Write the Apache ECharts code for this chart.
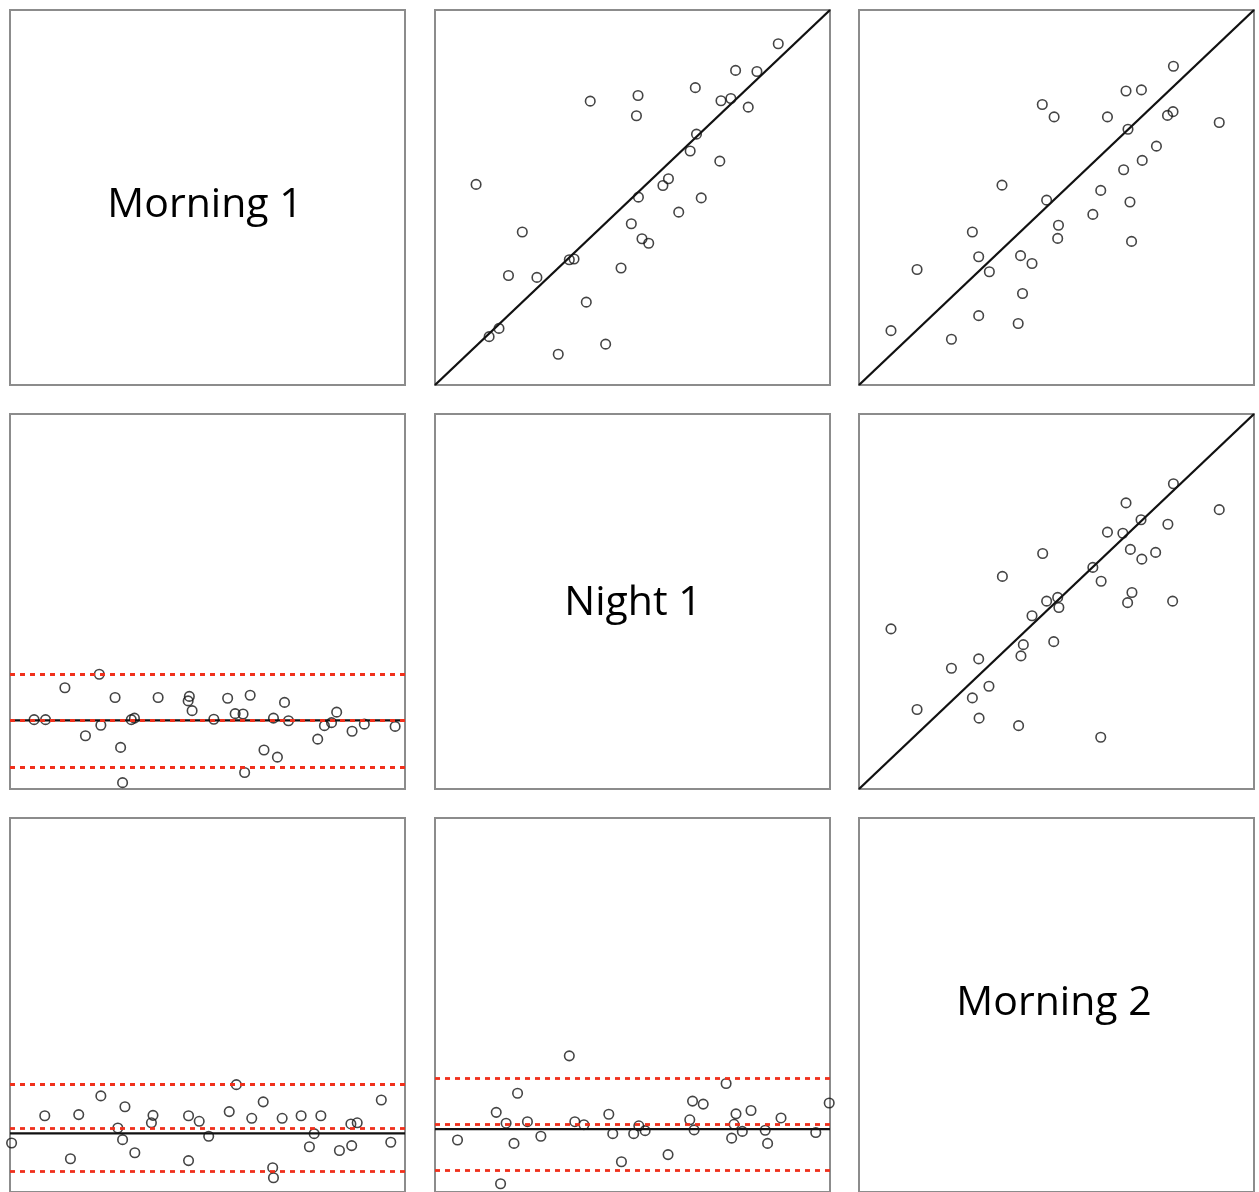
<!DOCTYPE html>
<html><head><meta charset="utf-8">
<script src="https://cdn.jsdelivr.net/npm/echarts@6.0.0/dist/echarts.min.js"></script>
<style>html,body{margin:0;padding:0;background:#fff}#c{width:1259px;height:1192px}</style>
</head><body><div id="c"></div>
<script>
// ---- data (arbitrary 0-100 units) ----
const panelLabels = ['Morning 1', 'Night 1', 'Morning 2'];
const axisMin = 0, axisMax = 100;

// row 1, col 2 scatter
const sc12X = [86.9,76.1,81.5,65.9,39.3,51.4,51.0,72.4,74.9,79.3,66.2,64.6,72.1,10.4,59.1,57.7,51.5,67.4,61.7,49.7,22.1,52.4,54.1,34.0,35.2,18.6,25.8,47.1,38.3,16.2,13.7,43.2,31.2];
const sc12Y = [91.0,83.9,83.6,79.3,75.7,77.2,71.8,75.8,76.4,74.1,66.9,62.4,59.7,53.5,55.0,53.2,50.1,49.9,46.1,43.0,40.8,39.0,37.8,33.4,33.6,29.2,28.7,31.2,22.1,15.1,12.9,10.9,8.2];

// row 1, col 3 scatter
const sc13X = [79.6,67.6,71.5,46.4,49.4,62.9,78.1,79.5,91.2,68.1,75.3,71.7,67.0,36.2,61.2,47.5,68.6,59.2,50.5,50.3,69.0,28.7,30.3,40.9,43.8,33.0,14.7,41.4,30.3,40.3,8.1,23.4];
const sc13Y = [85.0,78.4,78.7,74.8,71.5,71.5,71.9,72.9,70.0,68.2,63.7,59.9,57.4,53.3,51.9,49.3,48.8,45.5,42.6,39.1,38.3,40.8,34.2,34.5,32.4,30.2,30.8,24.4,18.5,16.4,14.5,12.2];

// row 2, col 3 scatter
const sc23X = [79.6,67.6,91.2,71.4,78.2,62.9,66.8,46.5,68.7,75.1,71.6,59.2,36.3,61.3,69.1,68.0,79.4,47.5,50.3,50.6,43.8,8.1,41.6,49.3,41.0,30.3,23.4,32.9,28.7,14.7,30.4,40.4,61.2];
const sc23Y = [81.4,76.3,74.5,71.8,70.6,68.5,68.2,62.8,63.9,63.1,61.3,59.1,56.7,55.4,52.4,49.7,50.1,50.1,51.1,48.4,46.2,42.7,38.5,39.3,35.5,34.7,32.2,27.4,24.3,21.2,18.9,16.9,13.8];

// row 2, col 1 difference plot
const ba21X = [6.1,9.0,13.9,22.6,19.1,23.0,26.6,28.0,28.5,30.7,31.5,37.5,45.4,45.1,46.1,51.6,55.1,57.0,59.0,60.8,59.4,64.3,67.7,66.7,69.5,70.5,77.9,79.6,81.4,82.7,86.6,89.7,97.5];
const ba21Y = [18.5,18.5,27.0,30.6,14.2,17.0,24.4,11.1,1.7,18.5,18.9,24.4,24.7,23.5,20.9,18.6,24.2,20.1,20.0,25.0,4.4,10.4,8.5,18.9,23.1,18.2,13.3,16.9,17.7,20.5,15.4,17.3,16.7];
const ba21Zero = 18.3, ba21Mean = 18.3, ba21Upper = 30.6, ba21Lower = 5.9;

// row 3, col 1 difference plot
const ba31X = [0.4,8.8,15.3,17.4,23.0,27.3,28.5,29.1,31.6,35.8,36.2,45.2,45.2,47.9,50.3,55.5,57.3,61.2,64.1,66.5,66.7,68.9,73.7,78.7,75.8,77.0,83.4,86.3,87.9,86.5,94.0,96.4];
const ba31Y = [13.1,20.4,8.9,20.7,25.7,17.1,14.0,22.8,10.5,18.5,20.5,8.4,20.4,18.9,14.9,21.5,28.7,19.7,24.1,6.5,3.8,19.7,20.4,20.4,12.1,15.6,11.1,18.2,18.5,12.4,24.6,13.3];
const ba31Zero = 15.7, ba31Mean = 17.1, ba31Upper = 28.8, ba31Lower = 5.5;

// row 3, col 2 difference plot
const ba32X = [5.7,15.5,18.0,20.0,20.9,16.6,23.4,26.8,34.0,35.4,37.7,44.0,45.0,47.2,50.3,51.6,53.2,59.0,64.5,65.2,67.9,65.6,73.7,76.2,75.7,77.8,75.1,80.0,83.6,84.2,87.6,96.4,99.8];
const ba32Y = [13.9,21.3,18.4,13.0,26.4,2.2,18.8,14.9,36.4,18.8,18.0,20.8,15.6,8.1,15.6,17.7,16.4,10.0,19.3,24.3,23.5,16.6,29.0,20.9,18.1,16.2,14.4,21.8,16.5,13.0,19.8,15.9,23.8];
const ba32Zero = 16.8, ba32Mean = 18.0, ba32Upper = 30.4, ba32Lower = 5.9;

// ---- layout ----
const colLeft = [10, 435, 859], colW = 395;
const rowTop = [10, 414, 818], rowH = 375;

const grids = [], xAxes = [], yAxes = [];
for (let r = 0; r < 3; r++) for (let c = 0; c < 3; c++) {
  grids.push({left: colLeft[c], top: rowTop[r], width: colW, height: rowH,
    show: true, borderColor: '#8c8c8c', borderWidth: 2, backgroundColor: '#fff'});
  const i = grids.length - 1;
  xAxes.push({type: 'value', gridIndex: i, min: axisMin, max: axisMax, show: false});
  yAxes.push({type: 'value', gridIndex: i, min: axisMin, max: axisMax, show: false});
}
const idx = (r, c) => r * 3 + c;

const zip = (a, b) => a.map((v, k) => [v, b[k]]);
const circleStyle = {color: 'rgba(0,0,0,0)', borderColor: '#151515', borderWidth: 1.6};
const series = [];

function scatterPanel(i, xs, ys) {
  series.push({type: 'line', xAxisIndex: i, yAxisIndex: i, data: [[axisMin, axisMin], [axisMax, axisMax]],
    symbol: 'none', lineStyle: {color: '#111', width: 2.3}, silent: true, z: 2});
  series.push({type: 'scatter', xAxisIndex: i, yAxisIndex: i, data: zip(xs, ys),
    symbol: 'circle', symbolSize: 9.5, itemStyle: circleStyle, clip: false, z: 3});
}
function baPanel(i, xs, ys, zero, mean, upper, lower) {
  series.push({type: 'line', xAxisIndex: i, yAxisIndex: i, data: [[axisMin, zero], [axisMax, zero]],
    symbol: 'none', lineStyle: {color: '#111', width: 2.2}, silent: true, z: 2,
    markLine: {silent: true, symbol: 'none', label: {show: false},
      lineStyle: {color: '#f0301c', width: 2.8, type: [5, 5]},
      data: [{yAxis: upper}, {yAxis: mean}, {yAxis: lower}]}});
  series.push({type: 'scatter', xAxisIndex: i, yAxisIndex: i, data: zip(xs, ys),
    symbol: 'circle', symbolSize: 9.5, itemStyle: circleStyle, clip: false, z: 4});
}

scatterPanel(idx(0, 1), sc12X, sc12Y);
scatterPanel(idx(0, 2), sc13X, sc13Y);
scatterPanel(idx(1, 2), sc23X, sc23Y);
baPanel(idx(1, 0), ba21X, ba21Y, ba21Zero, ba21Mean, ba21Upper, ba21Lower);
baPanel(idx(2, 0), ba31X, ba31Y, ba31Zero, ba31Mean, ba31Upper, ba31Lower);
baPanel(idx(2, 1), ba32X, ba32Y, ba32Zero, ba32Mean, ba32Upper, ba32Lower);

const labelPos = [[205, 205], [633, 603], [1054, 1003]];
const graphic = panelLabels.map((t, k) => ({
  type: 'text', x: labelPos[k][0], y: labelPos[k][1], z: 10,
  style: {text: t, font: '41px "Open Sans"', fill: '#000',
    align: 'center', verticalAlign: 'middle', textAlign: 'center', textVerticalAlign: 'middle'}
}));

const chart = echarts.init(document.getElementById('c'), null, {renderer: 'canvas'});
chart.setOption({animation: false, backgroundColor: '#fff', grid: grids, xAxis: xAxes, yAxis: yAxes,
  series: series, graphic: graphic});
</script></body></html>
